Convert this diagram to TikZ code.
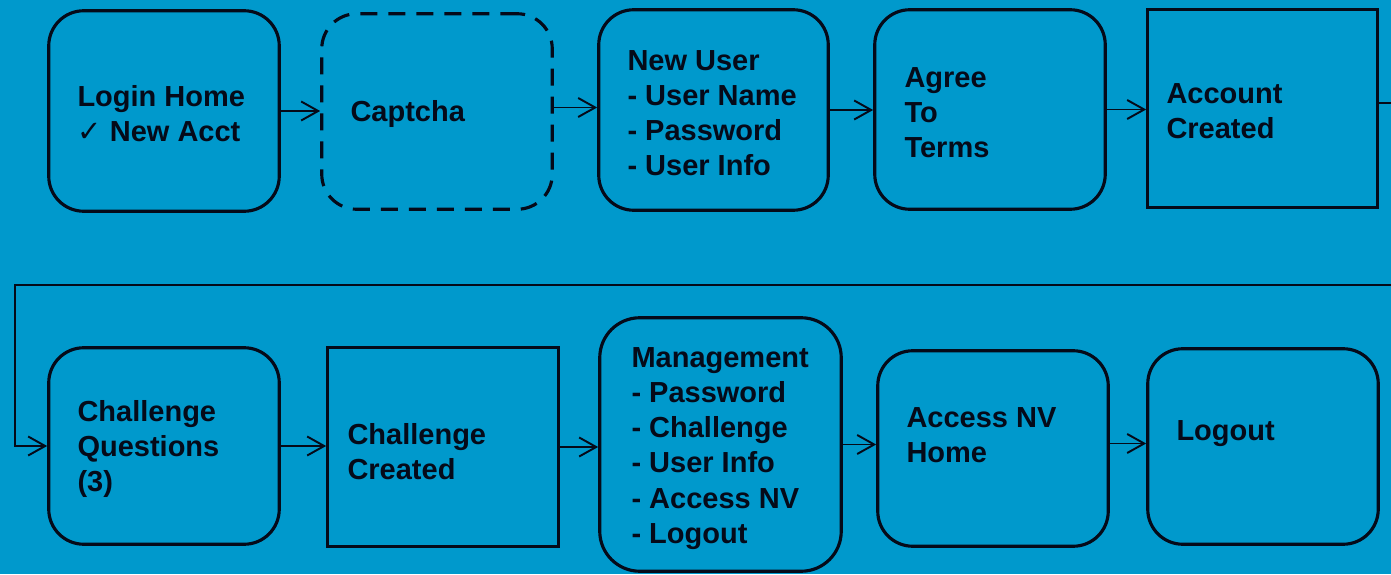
\documentclass[tikz,border=0pt]{standalone}
\usepackage{fontspec}
\setmainfont{Liberation Sans}
\newfontfamily\symfont{DejaVu Sans}
\usetikzlibrary{arrows.meta,calc,positioning}
\definecolor{bgblue}{RGB}{0,153,204}
\definecolor{inkblack}{RGB}{5,10,25}
\def\bw{4.61}
\def\bh{4.0}

\begin{document}
\begin{tikzpicture}
    [
        box/.style={draw=inkblack, line width=1.8pt, rounded corners=0.7cm,
            minimum width=\bw cm, minimum height=\bh cm, inner sep=0pt},
        sqbox/.style={box, sharp corners},
        dashbox/.style={box, dash pattern=on 0.34cm off 0.22cm},
        txt/.style={anchor=west, inner sep=0pt, align=left, text=inkblack,
            yshift=-0.06cm, font=\bfseries\fontsize{16.5}{20}\selectfont},
        flow/.style={draw=inkblack, line width=1.1pt,
            -{Straight Barb[length=3.4mm,width=3.8mm]}}
    ]
    \fill[bgblue] (0,0) rectangle (27.82,11.48);

    % top row
    \node[box, minimum height=4.01cm] (login) at (3.28,9.26) {};
    \node[dashbox, minimum height=3.91cm] (captcha) at (8.74,9.25) {};
    \node[box, minimum height=4.01cm, minimum width=4.59cm] (newuser) at (14.27,9.28) {};
    \node[box, minimum height=3.99cm] (agree) at (19.80,9.29) {};
    \node[sqbox, minimum height=3.95cm, minimum width=4.59cm] (acct) at (25.25,9.31) {};

    % bottom row
    \node[box, minimum height=3.93cm] (chalq) at (3.28,2.56) {};
    \node[sqbox, minimum height=3.97cm] (chalc) at (8.86,2.54) {};
    \node[box, minimum width=4.83cm, minimum height=5.07cm, rounded corners=0.8cm] (mgmt) at (14.41,2.59) {};
    \node[box, minimum height=3.91cm] (access) at (19.86,2.51) {};
    \node[box, minimum height=3.91cm] (logout) at (25.26,2.55) {};

    % texts
    \node[txt] (loginT) at ($(login.west)+(0.6,0)$)
        {Login Home\\{\symfont\mdseries ✓} New Acct};
    \node[txt] (captchaT) at ($(captcha.west)+(0.6,0)$) {Captcha};
    \node[txt] (newuserT) at ($(newuser.west)+(0.6,0)$)
        {New User\\- User Name\\- Password\\- User Info};
    \node[txt] (agreeT) at ($(agree.west)+(0.62,0)$) {Agree\\To\\Terms};
    \node[txt] (acctT) at ($(acct.west)+(0.4,0)$) {Account\\Created};
    \node[txt] (chalqT) at ($(chalq.west)+(0.6,0)$) {Challenge\\Questions\\(3)};
    \node[txt] (chalcT) at ($(chalc.west)+(0.42,-0.04)$) {Challenge\\Created};
    \node[txt] (mgmtT) at ($(mgmt.west)+(0.66,-0.02)$)
        {Management\\- Password\\- Challenge\\- User Info\\- Access NV\\- Logout};
    \node[txt] (accessT) at ($(access.west)+(0.6,0.32)$) {Access NV\\Home};
    \node[txt] (logoutT) at ($(logout.west)+(0.6,0.31)$) {Logout};

    % connectors
    \draw[flow] (login.east) -- (login.east -| captcha.west);
    \draw[flow] ($(captcha.east)+(0,0.08)$) -- ($(captcha.east -| newuser.west)+(0,0.08)$);
    \draw[flow] (newuser.east) -- (newuser.east -| agree.west);
    \draw[flow] (agree.east) -- (agree.east -| acct.west);
    \draw[flow] ($(acct.east)+(0,0.11)$) -- ++(0.5,0) |- (0.3,5.78) |- (chalq.west);
    \draw[flow] (chalq.east) -- (chalq.east -| chalc.west);
    \draw[flow] (chalc.east) -- (chalc.east -| mgmt.west);
    \draw[flow] (mgmt.east) -- (mgmt.east -| access.west);
    \draw[flow] ($(access.east)+(0,0.1)$) -- ($(access.east -| logout.west)+(0,0.1)$);

    \pgfresetboundingbox
    \useasboundingbox (0,0) rectangle (27.82,11.48);
\end{tikzpicture}
\end{document}
